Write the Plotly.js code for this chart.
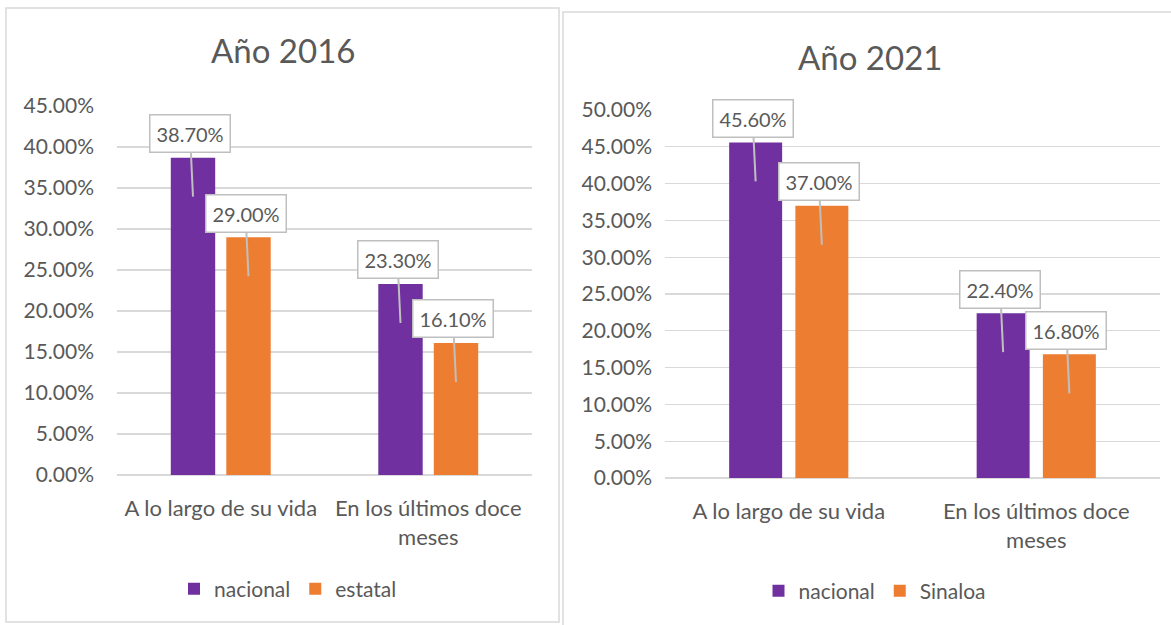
<!DOCTYPE html>
<html><head><meta charset="utf-8">
<script src="https://cdn.plot.ly/plotly-3.0.1.min.js"></script>
<style>html,body{margin:0;padding:0;background:#fff}#chart{width:1171px;height:625px}</style>
</head><body><div id="chart"></div>
<script>
const categories = ["A lo largo de su vida", "En los últimos doce<br>meses"];
const nacional2016 = [0.387, 0.233];
const estatal2016 = [0.290, 0.161];
const nacional2021 = [0.456, 0.224];
const sinaloa2021 = [0.370, 0.168];
const seriesNames2016 = ["nacional", "estatal"];
const seriesNames2021 = ["nacional", "Sinaloa"];
const title2016 = "Año 2016";
const title2021 = "Año 2021";

const PURPLE = "#7030a0", ORANGE = "#ed7d31", GRAY = "#595959", GRID = "#d9d9d9";
const FONT = "Lato, 'Noto Sans', sans-serif";
const W = 1171, H = 625;
const BARGAP = 0.465;

const traces = [
  {type:"bar", x:categories, y:nacional2016, name:seriesNames2016[0], marker:{color:PURPLE}, xaxis:"x", yaxis:"y", legend:"legend"},
  {type:"bar", x:categories, y:estatal2016, name:seriesNames2016[1], marker:{color:ORANGE}, xaxis:"x", yaxis:"y", legend:"legend"},
  {type:"bar", x:categories, y:nacional2021, name:seriesNames2021[0], marker:{color:PURPLE}, xaxis:"x2", yaxis:"y2", legend:"legend2"},
  {type:"bar", x:categories, y:sinaloa2021, name:seriesNames2021[1], marker:{color:ORANGE}, xaxis:"x2", yaxis:"y2", legend:"legend2"}
];
traces.forEach(t => { t.hoverinfo = "none"; });

function fmt(v){ return (v*100).toFixed(2) + "%"; }
const off = (1 - BARGAP) / 4;
const annotations = [];
function addLabels(vals, sign, xref, yref){
  vals.forEach((v, i) => {
    annotations.push({
      x: i + sign*off, y: v, xref: xref, yref: yref,
      text: fmt(v), showarrow: true, arrowhead: 0, arrowwidth: 2, arrowcolor: "#bfbfbf",
      ax: -3, ay: -63, yshift: -39, standoff: 0,
      bgcolor: "#ffffff", bordercolor: "#bfbfbf", borderwidth: 1.5, borderpad: 6,
      font: {family: FONT, size: 20, color: GRAY}
    });
  });
}
addLabels(nacional2016, -1, "x", "y");
addLabels(estatal2016, 1, "x", "y");
addLabels(nacional2021, -1, "x2", "y2");
addLabels(sinaloa2021, 1, "x2", "y2");

annotations.push({text: title2016, xref:"paper", yref:"paper", x: 283/W, y: 1 - 50/H, showarrow:false,
  xanchor:"center", yanchor:"middle", font:{family:FONT, size:33, color:GRAY}});
annotations.push({text: title2021, xref:"paper", yref:"paper", x: 870/W, y: 1 - 57/H, showarrow:false,
  xanchor:"center", yanchor:"middle", font:{family:FONT, size:33, color:GRAY}});

const axisCommon = {
  showgrid: true, gridcolor: GRID, gridwidth: 1.3, zeroline: true, zerolinecolor: GRID, zerolinewidth: 1.3,
  showline: false, tickformat: ".2%", dtick: 0.05, tick0: 0,
  tickfont: {family: FONT, size: 21, color: GRAY}, fixedrange: true
};
const xCommon = {
  type: "category", showgrid: false, zeroline: false, showline: false, ticks: "",
  tickfont: {family: FONT, size: 22, color: GRAY}, ticklabelstandoff: 18, fixedrange: true
};

const layout = {
  width: W, height: H,
  margin: {l:0, r:0, t:0, b:0},
  paper_bgcolor: "#ffffff", plot_bgcolor: "#ffffff",
  barmode: "group", bargap: BARGAP, bargroupgap: 0.2,
  showlegend: true,
  xaxis: Object.assign({}, xCommon, {domain: [117/W, 532/W], anchor: "y"}),
  yaxis: Object.assign({}, axisCommon, {domain: [1 - 475/H, 1 - 106/H], range: [0, 0.45], anchor: "x", ticklabelstandoff: 22}),
  xaxis2: Object.assign({}, xCommon, {domain: [665/W, 1160/W], anchor: "y2"}),
  yaxis2: Object.assign({}, axisCommon, {domain: [1 - 478/H, 1 - 110/H], range: [0, 0.50], anchor: "x2", ticklabelstandoff: 12}),
  legend: {orientation: "h", x: 288/W, xanchor: "center", y: 1 - 589/H, yanchor: "middle",
    font: {family: FONT, size: 21, color: GRAY}, bgcolor: "rgba(0,0,0,0)"},
  legend2: {orientation: "h", x: 875/W, xanchor: "center", y: 1 - 591/H, yanchor: "middle",
    font: {family: FONT, size: 21, color: GRAY}, bgcolor: "rgba(0,0,0,0)"},
  annotations: annotations,
  shapes: [
    {type:"rect", xref:"paper", yref:"paper", x0: 6/W, x1: 559/W, y0: 1 - 622/H, y1: 1 - 8/H,
      line:{color: GRID, width: 1.5}, fillcolor: "rgba(0,0,0,0)", layer: "below"},
    {type:"rect", xref:"paper", yref:"paper", x0: 563/W, x1: 1.01, y0: -0.01, y1: 1 - 12/H,
      line:{color: GRID, width: 1.5}, fillcolor: "rgba(0,0,0,0)", layer: "below"}
  ]
};

Plotly.newPlot("chart", traces, layout, {displayModeBar: false, staticPlot: true});
</script>
</body></html>
